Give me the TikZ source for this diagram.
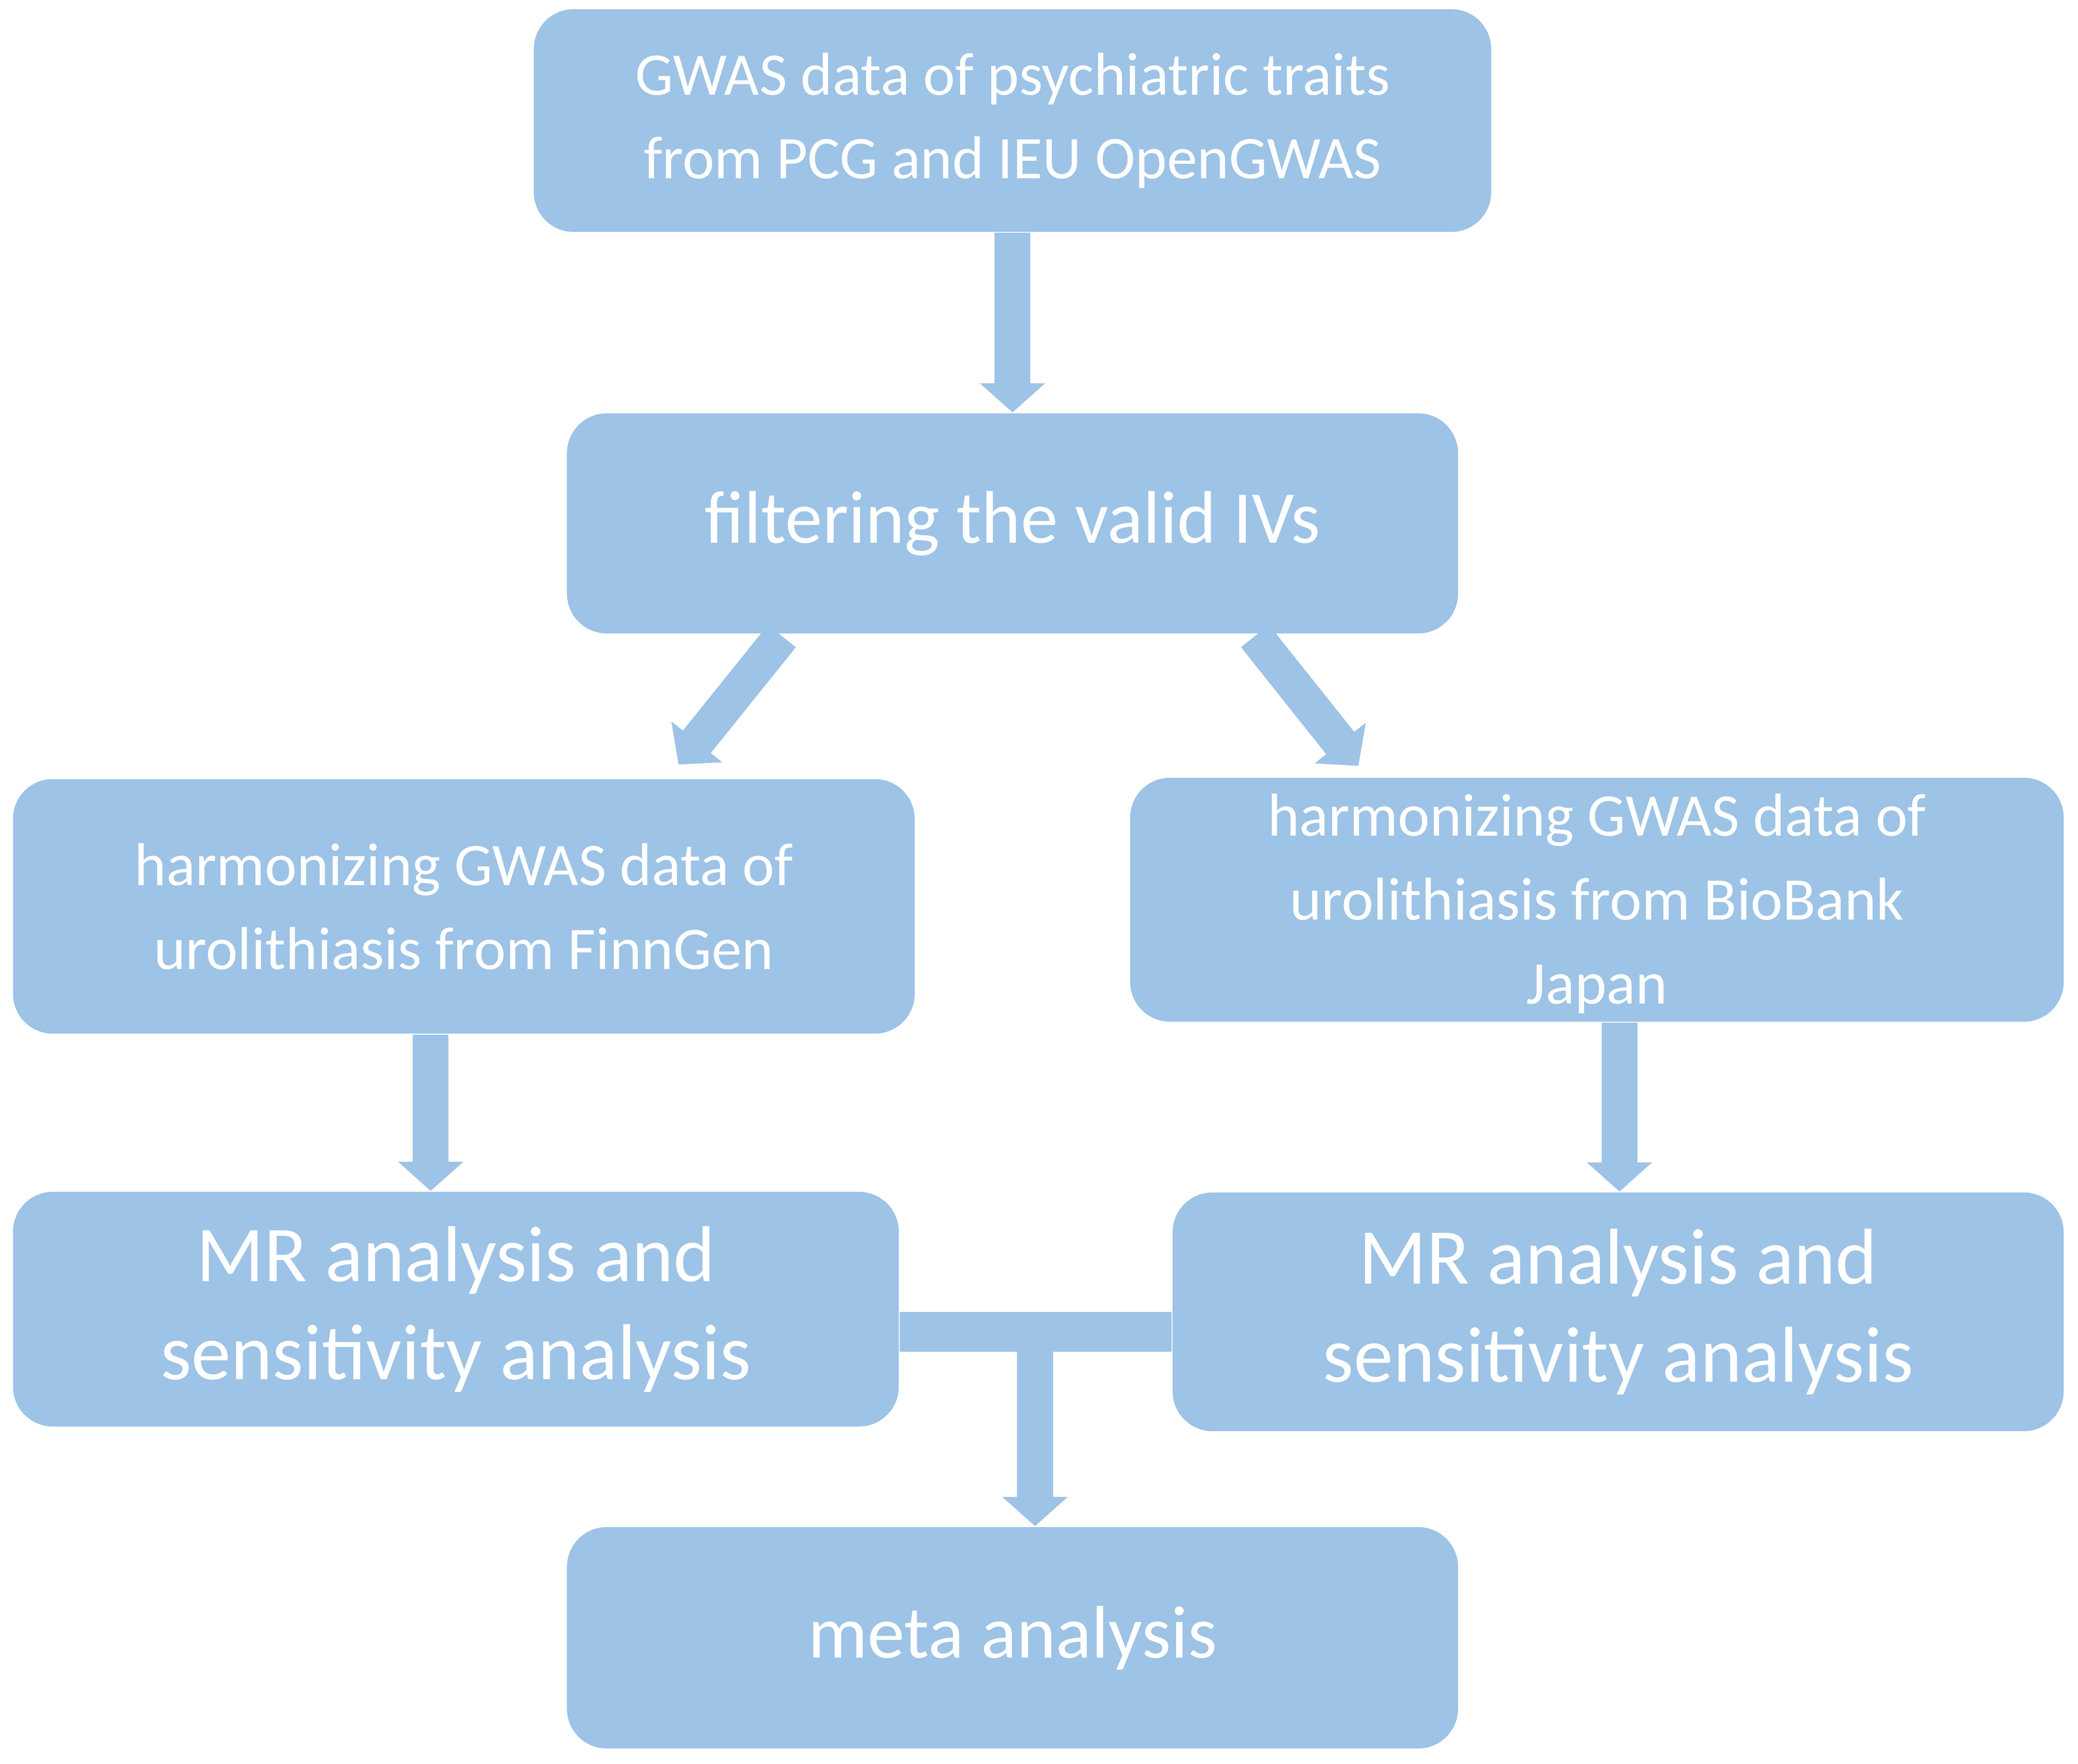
\documentclass[tikz,border=0pt]{standalone}
\usepackage{fontspec}
\setmainfont{Carlito}
\usetikzlibrary{arrows.meta}
\definecolor{boxblue}{HTML}{9DC3E6}
\tikzset{
  stepbox/.style={fill=boxblue,rounded corners=0.3cm,text=white,align=center,inner sep=0pt},
  flow/.style={boxblue,line width=0.27cm,-{Triangle[width=0.48cm,length=0.22cm]}}
}
\begin{document}
\begin{tikzpicture}[x=0.01cm,y=-0.01cm]
  \useasboundingbox (0,0) rectangle (1568,1331);
  % boxes
  \node[stepbox,minimum width=7.22cm,minimum height=1.68cm,font=\fontsize{13}{18}\selectfont] (gwas) at (764,91)
    {GWAS data of psychiatric traits\\from PCG and IEU OpenGWAS};
  \node[stepbox,minimum width=6.72cm,minimum height=1.66cm,font=\fontsize{16}{20}\selectfont] (iv) at (764,395)
    {filtering the valid IVs};
  \node[stepbox,minimum width=6.8cm,minimum height=1.92cm,font=\fontsize{13}{18}\selectfont] (finn) at (350,684)
    {harmonizing GWAS data of\\urolithiasis from FinnGen};
  \node[stepbox,minimum width=7.04cm,minimum height=1.84cm] (bbj) at (1205,679) {};
  \node[text=white,align=center,font=\fontsize{13}{18}\selectfont] (bbjtxt) at (1205,682)
    {harmonizing GWAS data of\\urolithiasis from BioBank\\Japan};
  \node[stepbox,minimum width=6.68cm,minimum height=1.77cm,font=\fontsize{17}{21}\selectfont] (mr1) at (344,988)
    {MR analysis and\\sensitivity analysis};
  \node[stepbox,minimum width=6.72cm,minimum height=1.8cm,font=\fontsize{17}{21}\selectfont] (mr2) at (1221,990)
    {MR analysis and\\sensitivity analysis};
  \node[stepbox,minimum width=6.72cm,minimum height=1.67cm,font=\fontsize{16}{20}\selectfont] (meta) at (764,1236)
    {meta analysis};
  % connectors
  \coordinate (join) at (781,1005);
  \draw[flow] (gwas) -- (iv);
  \draw[flow] (590,480) -- (512,577);
  \draw[flow] (947,480) -- (1025,578);
  \draw[flow] (finn.south -| 325,0) -- (mr1.north -| 325,0);
  \draw[flow] (bbj.south -| 1222,0) -- (mr2.north -| 1222,0);
  \draw[boxblue,line width=0.3cm] (mr1.east |- join) -- (mr2.west |- join);
  \draw[flow] ([yshift=-0.15cm]join) -- (meta.north -| join);
\end{tikzpicture}
\end{document}
